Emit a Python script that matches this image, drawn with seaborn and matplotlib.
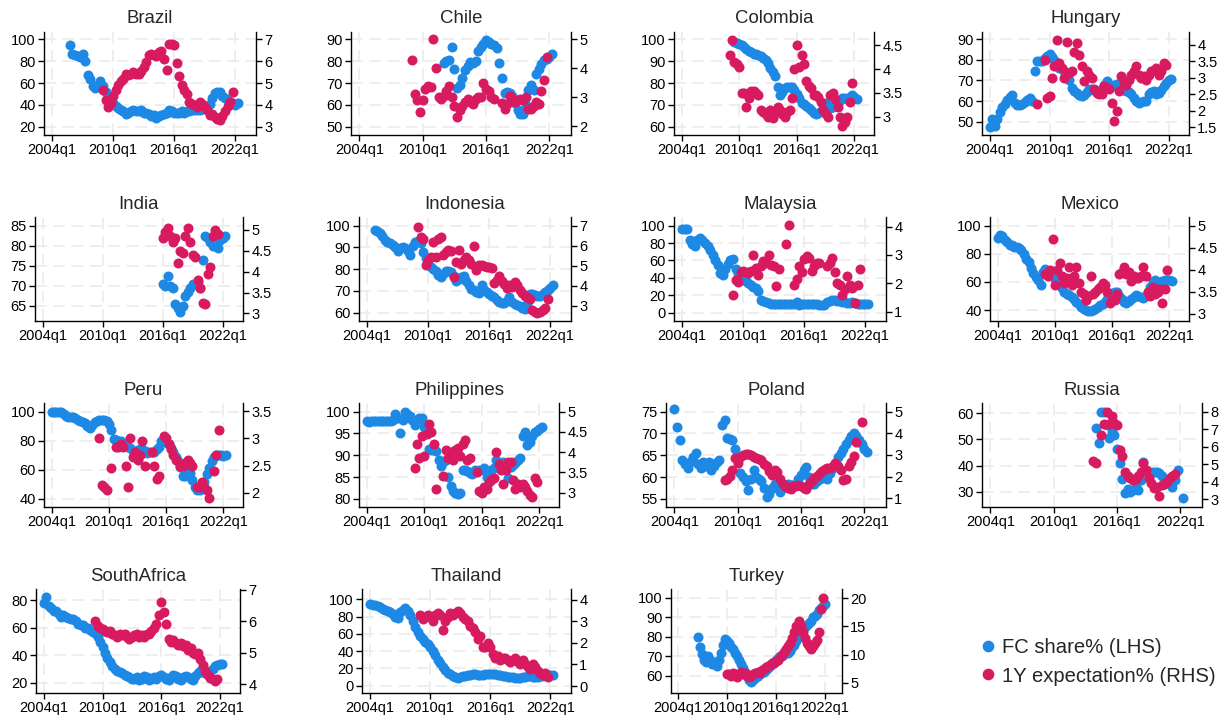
import numpy as np
import pandas as pd
import matplotlib
matplotlib.use("Agg")
import matplotlib.pyplot as plt
from matplotlib.lines import Line2D
from matplotlib.ticker import FuncFormatter
import seaborn as sns

NaN = np.nan

# Quarter index: 0 = 2004q1, 24 = 2010q1, 48 = 2016q1, 72 = 2022q1
x_ticks = [0, 24, 48, 72]
x_labels = ["2004q1", "2010q1", "2016q1", "2022q1"]

# ---- FC share (%) series, left axis; each list starts at the given quarter ----
brazil_fc_start = 7
brazil_fc = [95, 87, 86, 85, 84, 87, 80, 67, 64, 57, 55, 58, 62, 57, 52, 49, 45, 42, 39, 37,
             35, 34, 32, 33, 34, 35, 34, 34, 35, 33, 33, 32, 30, 31, 28, 30, 31, 32, 33, 35,
             34, 33, 33, 33, 34, 33, 34, 34, 35, 35, 35, 35, 36, 37, 38, 41, 46, 51, 52, 52,
             48, 46, 44, 43, 42, 40, 42]
chile_fc_start = 32
chile_fc = [79, 80, 80.5, 86.5, 76.5, 67.5, 69, 72.5, 76, 78, 79.5, 79, 80, 84.5, 86.5, 88,
            89.5, 89, 88, 87.5, 86, 79, 72.5, 65.5, 66, 65.5, 64, 61, 57.5, 56, 56, 60, 67,
            69, 67, 74, 76.5, 78.5, 80.5, 81, 82, 83.5]
colombia_fc_start = 22
colombia_fc = [99, 98.5, 98, 97.5, 96.5, 95.5, 94.5, 94, 93.5, 93.5, 93, 92.5, 91.5, 90.5,
               89, 87, 85, 83, 78, 74.5, 76, 77.5, 78, 78, 78, 77, 75, 73, 71, 70.5, 69.5,
               68.5, 67.5, 66.5, 66, 66.5, 67, 67.5, 71, 68.5, 68.5, 69, 70, 71, 72, 73, 73,
               72.5, 73.5, 74.5, 73.5, 72.5]
hungary_fc_start = 0
hungary_fc = [47.5, 51.5, 48, 51.5, 54.5, 57, 58.5, 60.5, 62, 63, 59, 58, 58, 58.5, 59.5,
              60.5, 61.5, 60, 74.5, 79.5, 79.5, 79.5, 81, 82, 83, 81.5, 80, 78, 76, 75.5,
              74.5, 73, 70, 66.5, 65, 64, 63, 62.5, 63, 64.5, 66, 66, 65.5, 65, 64.5, 66,
              68, 69.5, 68, 67.5, 68, 68.5, 68, 67, 65.5, 65, 64.5, 63.5, 61.5, 60, 59, 59.5,
              60, 60, 63.5, 64.5, 65, 63.5, 64, 65.5, 67.5, 69, 70, 70.5]
india_fc_start = 48
india_fc = [70.5, 70, 72.5, 70, 69.5, 65.5, 64.5, 63.5, 65, 67.5, 68.5, 69.5, 70.5, 70.5,
            71, 69.5, 76.5, 82.5, 82, 81, 80, 80, 79.5, 81.5, 82, 82.5]
indonesia_fc_start = 3
indonesia_fc = [98, 97.5, 96.5, 95, 93.5, 92.5, 92, 91, 90, 88.5, 89.5, 90, 89.5, 88.5, 86.5,
                90.5, 92.5, 93, 92, 88, 85, 82.5, 81, 80, 79, 77.5, 76.5, 78, 79, 79, 78.5,
                77, 74.5, 75.5, 76.5, 77, 74.5, 72.5, 71, 70.5, 69.5, 69, 72.5, 70.5, 69.5,
                68.5, 67.5, 67, 66, 65, 64.5, 64.5, 65.5, 67, 65, 64, 63.5, 63, 62, 61.5, 64,
                68.5, 68.5, 68, 67.5, 67.5, 68.5, 69.5, 70.5, 71.5, 72.5]
malaysia_fc_start = 0
malaysia_fc = [96, 96, 96, 83, 79, 77, 84, 86, 83, 80, 77, 72, 66, 61, 55, 46, 43, 50, 56, 61,
               62, 50, 44, 40, 37.5, 36, 34.5, 32, 30, 28, 25, 15, 13, 12, 11, 10.5, 10.5,
               10.5, 10, 10, 10, 10.5, 10.5, 10, 10.5, 12.5, 9, 10, 10.5, 9.5, 9.5, 10, 10.5,
               10, 9, 8.5, 9, 12, 13.5, 14.5, 14, 13.5, 13, 12.5, 12, 11, 11.5, 12, 11, 10.5,
               10, 9.5, 10, 10.5]
mexico_fc_start = 0
mexico_fc = [91, 93.5, 92.5, 90, 88, 86.5, 86, 85, 84.5, 84, 83, 80, 76.5, 74, 70, 66, 63.5,
             61, 58, 67, 69.5, 68, 67, 65, 62, 60.5, 58, 55.5, 52.5, 51.5, 50.5, 49, 47.5,
             46, 44, 42, 40.5, 40, 39, 39.5, 40, 41, 42, 43.5, 44.5, 46, 48, 50, 52, 53, 53,
             50, 47.5, 46, 45, 46.5, 48, 49, 50.5, 50, 49.5, 48.5, 50, 52.5, 56.5, 60, 61,
             59, 60, 60.5, 61, 61.5, 61, 60.5]
peru_fc_start = 0
peru_fc = [100, 100, 100, 100, 99.5, 98.5, 97, 96.5, 96.5, 96, 95.5, 94.5, 93.5, 93, 92, 90,
           88.5, 91, 93, 93.5, 94, 94, 94, 93.5, 91.5, 87.5, 81.5, 80.5, 80, 79.5, 78.5, 77.5,
           76, 75, 73, 73, 73.5, 74.5, 74, 73, 71.5, 72, 72.5, 72.5, 74, 76, 79.5, 80.5, 79,
           77.5, 75, 72, 69, 66, 62, 56, 56, 60, 58, 53, 48, 46.5, 46.5, 49, 52, 57, 61, 66,
           68.5, 70, 70, 70, 69.5, 70]
philippines_fc_start = 0
philippines_fc = [97.8, 97.7, 97.8, 97.8, 97.9, 97.8, 97.8, 97.9, 97.8, 97.8, 97.9, 98.0,
                  99.5, 98.5, 95, 98, 99.8, 99.5, 99, 98, 97, 98, 98.5, 98.5, 96.5, 95, 91.5,
                  91.3, 91.2, 91, 89, 87.5, 88.5, 89, 85, 83, 81.7, 81.3, 81.2, 81.3, 86.5,
                  86.5, 86.3, 86, 85.8, 86.6, 86.3, 86.5, 86.6, 87, 85, 85.9, 86.5, 87, 89,
                  88, 87.8, 88.5, 87.4, 84.7, 87.4, 87.8, 88.2, 89, 89.3, 94.3, 95.4, 92.4, 93,
                  94.3, 95.4, 95.6, 96, 96.4]
poland_fc_start = 0
poland_fc = [75.5, 71.5, 68.5, 64, 63, 62, 63.5, 64.5, 65.5, 63, 62, 63.5, 62.5, 63.5, 61.5,
             62.5, 63.5, 64, 72, 73, 69, 68.7, 68.5, 66.5, 64.5, 61, 60, 59, 57, 59.5, 61.5,
             60, 59.5, 59, 57.5, 55.5, 56, 57.5, 58.5, 57.5, 56.5, 57.5, 58.2, 58.5, 58.2,
             58.2, 58.5, 59.5, 60.5, 61.5, 62.3, 60, 58.5, 58.5, 59, 59.5, 60.5, 61, 59.5, 61,
             62, 63, 64.5, 65.5, 66.5, 67.5, 68.5, 69.5, 70, 69.5, 68.5, 67.5, 66.5, 65.8]
russia_fc_start = 40
russia_fc = [54.5, 48.5, 60.5, 60.5, 55.5, 50.5, 53, 51.5, 46.5, 41, 35, 29.5, 31, 30, 30.5,
             32, 30.5, 34.5, 41.5, 38.5, 37, 37.5, 37.5, 37.5, 37, 36, 33, 34.5, 33.5, 32,
             34.5, 38.5, NaN, 27.5]
southafrica_fc_start = 0
southafrica_fc = [78, 82, 76, 74, 72, 72, 70, 68, 69, 68, 67, 66, 66, 65, 63, 62, 62, 60, 60,
                  58, 57, 56, 53, 50, 46, 42, 38, 35, 32, 30, 29, 28, 27, 26, 25, 24, 23, 23,
                  24, 22, 23, 25, 24, 22, 23, 24, 23, 25, 26, 24, 23, 22, 24, 26, 25, 23, 22,
                  24, 25, 24, 23, 22, 25, 27, 29, 28, 27, 28, 29, 30, 32, 33, 34, 34]
thailand_fc_start = 0
thailand_fc = [95, 94, 93, 92, 91, 89, 88, 86, 85, 83, 80, 78, 85, 88, 90, 87, 82, 75, 68, 62,
               58, 54, 50, 48, 45, 40, 35, 30, 26, 22, 18, 15, 13, 11, 10, 9, 10, 11, 11, 12,
               12, 13, 13, 12, 12, 12, 13, 13, 14, 13, 13, 12, 12, 11, 11, 10, 10, 10, 9, 9,
               9, 10, 10, 11, 11, 10, 10, 10, 11, 11, 12, 12, 12, 12]
turkey_fc_start = 10
turkey_fc = [80, 75, 71, 68, 67, 70, 68, 66, 67, 65, 68, 72, 76, 79, 78, 77, 75, 74, 72, 70,
             68, 66, 64, 62, 60, 58, 57, 58, 59, 60, 61, 62, 62, 63, 64, 65, 66, 67, 68, 69,
             70, 70, 71, 72, 72, 73, 75, 76, 78, 80, 82, 84, 85, 86, 87, 88, 90, 91, 92, 94,
             95, 96, 97]

# ---- 1-year-ahead inflation expectations (%), right axis ----
brazil_ex_start = 20
brazil_ex = [4.7, 4.2, 3.9, 4.1, 4.4, 4.7, 4.9, 5.1, 5.2, 5.4, 5.35, 5.4, 5.5, 5.4, 5.4, 5.55,
             5.75, 5.95, 6.3, 6.35, 6.3, 6.25, 6.4, 6.45, 6.1, 5.6, 6.8, 6.8, 6.75, 5.9, 5.3,
             4.9, 4.7, 4.5, 4.15, 4.05, 4.0, 3.9, 4.15, 4.05, 3.9, 3.75, 3.55, 3.6, 3.45, 3.35,
             3.3, 3.5, 3.7, 3.95, 4.15, 4.6]
chile_ex_start = 20
chile_ex = [4.3, 3.1, 2.9, 2.5, 2.9, 3.3, 3.4, 3.35, 5.0, 4.0, 3.0, 2.95, 3.05, 3.2, 3.4, 3.0,
            2.7, 2.3, 2.55, 2.7, 2.85, 2.95, 2.85, 2.75, 2.95, 3.0, 3.0, 3.5, 3.3, 3.2, 3.0,
            2.95, NaN, NaN, 2.8, 2.6, 2.75, 3.05, 2.9, 2.85, 2.9, 2.95, 2.9, 3.0, 2.6, 2.6,
            2.7, 2.85, 2.75, 3.2, 3.6, 4.4]
colombia_ex_start = 20
colombia_ex = [4.3, 4.6, 4.15, 4.1, 4.05, 3.5, 3.5, 3.2, 3.4, 3.55, 3.55, 3.5, 3.45, 3.15, 3.1,
               3.05, 3.0, 3.15, 2.97, 3.1, 3.2, 3.15, 3.05, 3.0, 3.1, 3.15, 3.4, 4.0, 4.5,
               4.05, 4.3, 4.1, 3.75, 3.65, 3.6, 3.45, 3.45, 3.42, 3.3, 3.15, 3.05, 3.0, 3.45,
               3.5, 3.38, 3.2, 3.0, 2.8, 2.9, 3.0, 3.3, 3.7]
hungary_ex_start = 19
hungary_ex = [2.2, NaN, NaN, 3.55, 2.4, 2.45, 3.0, 3.35, 4.15, 3.45, 3.3, 3.0, 4.1, 3.15, 3.2,
              3.8, 4.05, 3.7, 3.35, 2.9, 3.2, 3.1, 3.0, 2.65, 2.55, 2.5, 2.5, 2.75, 2.7, 2.65,
              2.25, 1.7, 2.0, 2.6, 3.05, 2.85, 2.8, 2.95, 3.1, 3.2, 3.35, 3.1, 3.0, 3.05, 2.95,
              3.1, 3.2, 3.25, 3.3, 3.1, 3.2, 3.45, 3.4]
india_ex_start = 48
india_ex = [4.8, 4.95, 5.05, 4.85, 4.7, 4.8, 4.2, 4.5, 4.45, 4.85, 5.05, 4.7, 4.4, 4.35, 3.8,
            3.6, 3.25, 3.22, 3.95, 4.1, 4.85, 5.0, 4.9]
indonesia_ex_start = 20
indonesia_ex = [6.95, 6.45, 6.35, 5.05, 5.3, 5.45, 6.2, 5.45, 6.35, 6.45, 5.55, 5.7, 5.8, 5.75,
                4.45, 5.2, 5.8, 5.1, 5.3, 5.45, 5.3, 5.1, 6.0, 4.8, 5.05, 5.05, 5.0, 4.95, 4.95,
                4.9, 4.15, 4.3, 4.5, 4.25, 4.1, 3.9, 4.05, 3.95, 4.2, 4.05, 3.8, 3.65, 3.5,
                3.45, 3.35, 2.8, 2.7, 2.65, 2.7, 2.8, 2.9, 3.35]
malaysia_ex_start = 20
malaysia_ex = [1.6, 2.1, 2.05, 2.4, 2.45, 2.4, 2.35, 2.45, 3.0, 2.55, 2.3, 2.6, 2.8, 2.7, 3.0,
               2.65, 2.6, 1.9, 2.5, NaN, NaN, 3.4, 4.05, NaN, 1.95, 2.15, 2.6, 2.4, 2.85, 2.95,
               2.9, 2.45, 2.6, 2.7, 2.7, NaN, NaN, 2.6, 2.7, 2.9, 2.4, 2.0, 1.95, 1.6, 1.8,
               2.25, 1.95, 1.85, 1.3, 1.95, 2.5]
mexico_ex_start = 20
mexico_ex = [3.9, 3.85, 4.0, 4.7, 3.65, 4.0, 4.15, 3.85, 3.7, 3.8, 4.05, 3.65, 3.85, 4.05, 3.7,
             3.5, 3.45, 3.3, 3.4, 3.85, 3.45, 3.5, 3.55, 3.6, 3.7, 3.65, 3.5, 3.25, 3.3, 3.3,
             3.45, 3.9, 3.95, 4.05, 3.9, 3.95, 3.75, 3.85, 3.8, 3.8, 3.85, 4.05, 3.85, 3.5,
             3.4, 3.6, 3.45, 3.5, 3.55, 3.25, 3.55, 4.0]
peru_ex_start = 20
peru_ex = [3.0, 2.15, 2.1, 2.05, NaN, 2.45, NaN, 2.85, 2.85, 2.9, 2.85, 2.5, 2.1, 3.0, 2.65,
           2.75, 2.6, 2.7, 2.95, 2.5, NaN, NaN, 2.75, 2.5, 2.25, 2.3, NaN, 3.05, 3.0, 2.9, 2.8,
           2.7, 2.6, NaN, 2.5, 2.5, 2.55, 2.6, 2.55, 2.5, NaN, 2.1, 2.1, 2.2, 2.1, 2.05, 1.9,
           NaN, 2.4, 2.7, 3.15]
philippines_ex_start = 20
philippines_ex = [3.6, 4.2, 3.85, 4.4, 3.9, 4.45, 4.7, 4.5, 4.2, 3.1, NaN, NaN, 3.4, 4.05,
                  3.85, 4.0, 3.8, 4.05, 4.1, 3.9, 4.2, 4.3, 3.8, 3.85, NaN, NaN, 3.5, 3.05, 3.0,
                  3.15, 3.1, 3.25, 3.3, 3.35, 4.0, 3.7, 3.55, 3.2, 3.55, 3.75, 3.75, 3.3, 3.1,
                  3.2, 3.15, 3.2, 3.15, 3.05, 2.95, 2.9, 3.35, 3.25]
poland_ex_start = 19
poland_ex = [1.85, 1.9, 2.05, 2.3, 2.85, 2.65, 2.9, 3.0, 3.05, 3.05, 3.0, 2.9, 2.85, 2.8, 2.75,
             2.6, 2.5, 2.25, 2.1, 2.3, 2.2, 1.9, 1.65, 1.55, 1.5, 1.45, 1.55, 1.55, 1.6, 1.55,
             1.5, 1.45, 1.65, 1.8, 1.95, 2.05, 2.15, 2.25, 2.35, 2.4, 2.4, 2.5, 2.65, 2.5, 2.3,
             1.85, 1.9, 2.5, 2.7, 2.95, 3.6, NaN, 4.5]
russia_ex_start = 39
russia_ex = [5.2, 5.05, NaN, 6.65, 7.3, 8.0, 7.3, 7.75, 7.35, 7.25, 5.8, 5.45, 4.55, 4.3, 4.2,
             4.1, 4.15, 4.3, 4.55, 5.05, 4.65, 4.2, 3.9, 3.65, 3.7, 3.15, 3.8, 3.9, 4.0, 4.2,
             4.3, 4.45]
southafrica_ex_start = 21
southafrica_ex = [6.0, 5.85, 5.8, 5.75, 5.7, 5.65, 5.7, 5.6, 5.55, 5.5, 5.6, 5.55, 5.6, 5.5,
                  5.45, 5.5, 5.55, 5.6, 5.5, 5.55, 5.5, 5.6, 5.6, 5.7, 5.8, 5.9, 6.2, 6.6,
                  6.3, 5.9, 5.45, 5.35, 5.4, 5.3, 5.25, 5.3, 5.2, 5.25, 5.1, 5.15, 5.0, 4.95,
                  5.0, 4.8, 4.6, 4.4, 4.3, 4.2, 4.15, 4.1, 4.15]
thailand_ex_start = 20
thailand_ex = [3.3, 3.1, 3.2, 3.3, 3.2, 3.0, 3.3, 3.4, 3.3, 2.6, 3.0, 3.2, 3.4, 3.3, 3.4, 3.5,
               3.4, 3.2, 3.1, 3.0, 2.8, 2.7, 2.5, 2.2, 2.3, 1.8, 1.8, 2.0, 1.8, 1.5, 1.3, 1.4,
               1.2, 1.3, 1.3, 1.2, 1.1, 1.2, 1.3, 1.1, 1.0, 1.2, 1.0, 0.9, 0.8, 1.0, 0.9, 0.7,
               0.6, 0.5, 0.6, 0.4]
turkey_ex_start = 24
turkey_ex = [6.5, 6.5, 6.2, 6.8, 6.5, 6.0, 6.5, 7.0, 6.5, 6.8, 6.2, 6.0, 6.3, 6.5, 6.8, 7.0,
             6.8, 7.2, 7.5, 7.8, 8.0, 8.2, 8.5, 8.5, 8.8, 9.0, 9.5, 10.0, 10.5, 11.0, 11.5,
             12.0, 13.0, 14.0, 15.0, 16.0, 15.0, 14.0, 13.0, 12.0, 11.5, 11.0, 11.5, 12.0,
             12.5, 14.0, 18.0, 20.0]

BLUE = "#1E88E5"
RED = "#D81B60"
GRID = "#ebebeb"

W, H = 1225, 721

# name, fc series, ex series, left ticks, right ticks, left ylim, right ylim, box (px: l, r, row)
ROW_Y = [(31.7, 135.0), (217.3, 321.0), (403.3, 506.7), (589.0, 692.5)]
panels = [
    ("Brazil", brazil_fc_start, brazil_fc, brazil_ex_start, brazil_ex,
     [20, 40, 60, 80, 100], [3, 4, 5, 6, 7], (12.4, 107), (2.62, 7.35), (44, 256, 0)),
    ("Chile", chile_fc_start, chile_fc, chile_ex_start, chile_ex,
     [50, 60, 70, 80, 90], [2, 3, 4, 5], (46.2, 93.5), (1.69, 5.27), (351, 571, 0)),
    ("Colombia", colombia_fc_start, colombia_fc, colombia_ex_start, colombia_ex,
     [60, 70, 80, 90, 100], [3, 3.5, 4, 4.5], (56.2, 103.5), (2.62, 4.78), (674, 874, 0)),
    ("Hungary", hungary_fc_start, hungary_fc, hungary_ex_start, hungary_ex,
     [50, 60, 70, 80, 90], [1.5, 2, 2.5, 3, 3.5, 4], (43.5, 93.7), (1.27, 4.40), (982, 1189, 0)),
    ("India", india_fc_start, india_fc, india_ex_start, india_ex,
     [65, 70, 75, 80, 85], [3, 3.5, 4, 4.5, 5], (61.2, 87.1), (2.82, 5.30), (35, 243, 1)),
    ("Indonesia", indonesia_fc_start, indonesia_fc, indonesia_ex_start, indonesia_ex,
     [60, 70, 80, 90, 100], [3, 4, 5, 6, 7], (56.2, 103.8), (2.23, 7.42), (359, 571, 1)),
    ("Malaysia", malaysia_fc_start, malaysia_fc, malaysia_ex_start, malaysia_ex,
     [0, 20, 40, 60, 80, 100], [1, 2, 3, 4], (-9.6, 109.6), (0.67, 4.33), (674, 886, 1)),
    ("Mexico", mexico_fc_start, mexico_fc, mexico_ex_start, mexico_ex,
     [40, 60, 80, 100], [3, 3.5, 4, 4.5, 5], (32.2, 105.9), (2.83, 5.19), (990, 1189, 1)),
    ("Peru", peru_fc_start, peru_fc, peru_ex_start, peru_ex,
     [40, 60, 80, 100], [2, 2.5, 3, 3.5], (34.7, 105.7), (1.74, 3.65), (44, 243, 2)),
    ("Philippines", philippines_fc_start, philippines_fc, philippines_ex_start, philippines_ex,
     [80, 85, 90, 95, 100], [3, 3.5, 4, 4.5, 5], (78.2, 101.9), (2.65, 5.21), (359, 559, 2)),
    ("Poland", poland_fc_start, poland_fc, poland_ex_start, poland_ex,
     [55, 60, 65, 70, 75], [1, 2, 3, 4, 5], (53.2, 76.9), (0.62, 5.38), (666, 886, 2)),
    ("Russia", russia_fc_start, russia_fc, russia_ex_start, russia_ex,
     [30, 40, 50, 60], [3, 4, 5, 6, 7, 8], (24.3, 63.8), (2.56, 8.48), (982, 1202, 2)),
    ("SouthAfrica", southafrica_fc_start, southafrica_fc, southafrica_ex_start, southafrica_ex,
     [20, 40, 60, 80], [4, 5, 6, 7], (13.1, 88), (3.73, 7.03), (36, 240, 3)),
    ("Thailand", thailand_fc_start, thailand_fc, thailand_ex_start, thailand_ex,
     [0, 20, 40, 60, 80, 100], [0, 1, 2, 3, 4], (-8, 112), (-0.3, 4.5), (362, 571, 3)),
    ("Turkey", turkey_fc_start, turkey_fc, turkey_ex_start, turkey_ex,
     [60, 70, 80, 90, 100], [5, 10, 15, 20], (51.5, 104.6), (3.3, 21.6), (671, 842, 3)),
]

sns.set_style("white")
plt.rcParams["font.family"] = ["Liberation Sans", "DejaVu Sans"]

fig = plt.figure(figsize=(W / 100, H / 100), dpi=100)
fmt = FuncFormatter(lambda v, p: f"{v:g}")


def series_frame(start, values):
    df = pd.DataFrame({"q": start + np.arange(len(values)), "v": values})
    return df.dropna()


for (name, fs, fc, es, ex, lt, rt, ylim_l, ylim_r, (l, r, row)) in panels:
    t, b = ROW_Y[row]
    ax = fig.add_axes([l / W, 1 - b / H, (r - l) / W, (b - t) / H])
    ax2 = ax.twinx()

    sns.scatterplot(data=series_frame(fs, fc), x="q", y="v", ax=ax, color=BLUE,
                    s=52, linewidth=0, legend=False, zorder=3)
    sns.scatterplot(data=series_frame(es, ex), x="q", y="v", ax=ax2, color=RED,
                    s=52, linewidth=0, legend=False, zorder=3)

    ax.set_xlim(-3.2, 80.2)
    ax.set_xticks(x_ticks)
    ax.set_xticklabels(x_labels)
    ax.set_ylim(*ylim_l)
    ax.set_yticks(lt)
    ax.yaxis.set_major_formatter(fmt)
    ax2.set_ylim(*ylim_r)
    ax2.set_yticks(rt)
    ax2.yaxis.set_major_formatter(fmt)

    ax.set_xlabel("")
    ax.set_ylabel("")
    ax2.set_ylabel("")
    ax.set_title(name, fontsize=13.4, pad=6)

    ax.set_axisbelow(True)
    ax.grid(True, color=GRID, linestyle=(0, (7, 4)), linewidth=1.2)
    ax2.grid(False)

    for a in (ax, ax2):
        a.spines["top"].set_visible(False)
        for s in ("left", "right", "bottom"):
            a.spines[s].set_color("black")
            a.spines[s].set_linewidth(1.0)
        a.tick_params(direction="out", length=4, width=1, colors="black",
                      labelsize=10.5, pad=2)
    ax.spines["right"].set_visible(False)
    ax2.spines["left"].set_visible(False)
    ax2.spines["bottom"].set_visible(False)
    ax.tick_params(axis="y", left=True, right=False)
    ax.tick_params(axis="x", bottom=True)

handles = [
    Line2D([], [], marker="o", linestyle="", color=BLUE, markersize=7.4),
    Line2D([], [], marker="o", linestyle="", color=RED, markersize=7.4),
]
fig.legend(handles, ["FC share% (LHS)", "1Y expectation% (RHS)"],
           loc="center left", bbox_to_anchor=(968 / W, 1 - 662 / H), frameon=False,
           fontsize=14.6, handletextpad=0.2, labelspacing=0.45, handlelength=1.0,
           borderpad=0)

fig.savefig("out.png", dpi=100, facecolor="white")
